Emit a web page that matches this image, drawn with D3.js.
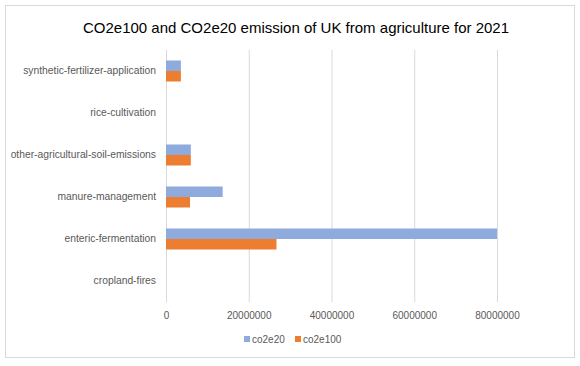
<!DOCTYPE html>
<html lang="en">
<head>
  <meta charset="UTF-8">
  <title>UK agriculture emissions</title>
  <script src="https://d3js.org/d3.v7.min.js"></script>
  <style>
    * { margin: 0; padding: 0; box-sizing: border-box; }
    body { background: white; font-family: "Liberation Sans", Arial, sans-serif; }
  </style>
</head>
<body>
  <div id="chart"></div>
  <script>
    // data (top to bottom as drawn)
    const categories = ["synthetic-fertilizer-application", "rice-cultivation",
      "other-agricultural-soil-emissions", "manure-management",
      "enteric-fermentation", "cropland-fires"];
    const co2e20 = [3600000, 0, 6000000, 13700000, 80000000, 0];
    const co2e100 = [3600000, 0, 6000000, 5800000, 26700000, 0];
    const xTicks = [0, 20000000, 40000000, 60000000, 80000000];
    const seriesNames = ["co2e20", "co2e100"];
    const seriesColors = ["#8faadc", "#ed7d31"];

    const W = 580, H = 366;
    const margin = {top: 50, right: 83, bottom: 64, left: 166};
    const width = W - margin.left - margin.right,
          height = H - margin.top - margin.bottom;

    const svg = d3.select("#chart").append("svg")
      .attr("width", W).attr("height", H);

    // outer frame
    svg.append("rect")
      .attr("x", 5.5).attr("y", 5.5)
      .attr("width", 569).attr("height", 352)
      .attr("fill", "white").attr("stroke", "#d9d9d9");

    svg.append("text")
      .attr("x", 296).attr("y", 33)
      .attr("text-anchor", "middle")
      .style("font-size", "15px")
      .style("fill", "#000")
      .text("CO2e100 and CO2e20 emission of UK from agriculture for 2021");

    const g = svg.append("g").attr("transform", `translate(${margin.left},${margin.top})`);

    const x = d3.scaleLinear().domain([0, 80000000]).range([0, width]);
    const y = d3.scaleBand().domain(categories).range([0, height]).paddingInner(0.5).paddingOuter(0.25);
    const ySub = d3.scaleBand().domain(seriesNames).range([0, y.bandwidth()]);

    // grid
    g.append("g")
      .attr("transform", `translate(0,${height})`)
      .call(d3.axisBottom(x).tickValues(xTicks).tickSize(-height).tickFormat(""))
      .call(a => a.select(".domain").remove())
      .selectAll("line").attr("stroke", "#d9d9d9");

    // x tick labels
    g.append("g")
      .attr("transform", `translate(0,${height})`)
      .call(d3.axisBottom(x).tickValues(xTicks).tickSize(0).tickPadding(10).tickFormat(d3.format("d")))
      .call(a => a.select(".domain").remove())
      .selectAll("text")
      .style("font-size", "10px")
      .style("font-family", "Liberation Sans, Arial, sans-serif")
      .style("fill", "#595959");

    // category axis
    g.append("g")
      .call(d3.axisLeft(y).tickSize(0).tickPadding(10))
      .call(a => a.select(".domain").attr("stroke", "#d9d9d9"))
      .selectAll("text")
      .style("font-size", "10.3px")
      .style("font-family", "Liberation Sans, Arial, sans-serif")
      .style("fill", "#595959");

    const rows = categories.map((c, i) => ({c, vals: [co2e20[i], co2e100[i]]}));

    const grp = g.selectAll(".row").data(rows).enter().append("g")
      .attr("transform", d => `translate(0,${y(d.c)})`);

    grp.selectAll("rect")
      .data(d => d.vals.map((v, j) => ({s: seriesNames[j], v, col: seriesColors[j]})))
      .enter().append("rect")
      .attr("x", 0)
      .attr("y", d => ySub(d.s))
      .attr("height", ySub.bandwidth())
      .attr("width", d => x(d.v))
      .attr("fill", d => d.col);

    // legend
    const legend = svg.append("g").attr("transform", "translate(244,336)");
    const li = legend.selectAll("g").data(seriesNames).enter().append("g")
      .attr("transform", (d, i) => `translate(${i * 51},0)`);
    li.append("rect").attr("width", 6).attr("height", 6).attr("y", 0)
      .attr("fill", (d, i) => seriesColors[i]);
    li.append("text").attr("x", 8).attr("y", 6.5)
      .style("font-size", "10px").style("fill", "#595959")
      .text(d => d);
  </script>
</body>
</html>
